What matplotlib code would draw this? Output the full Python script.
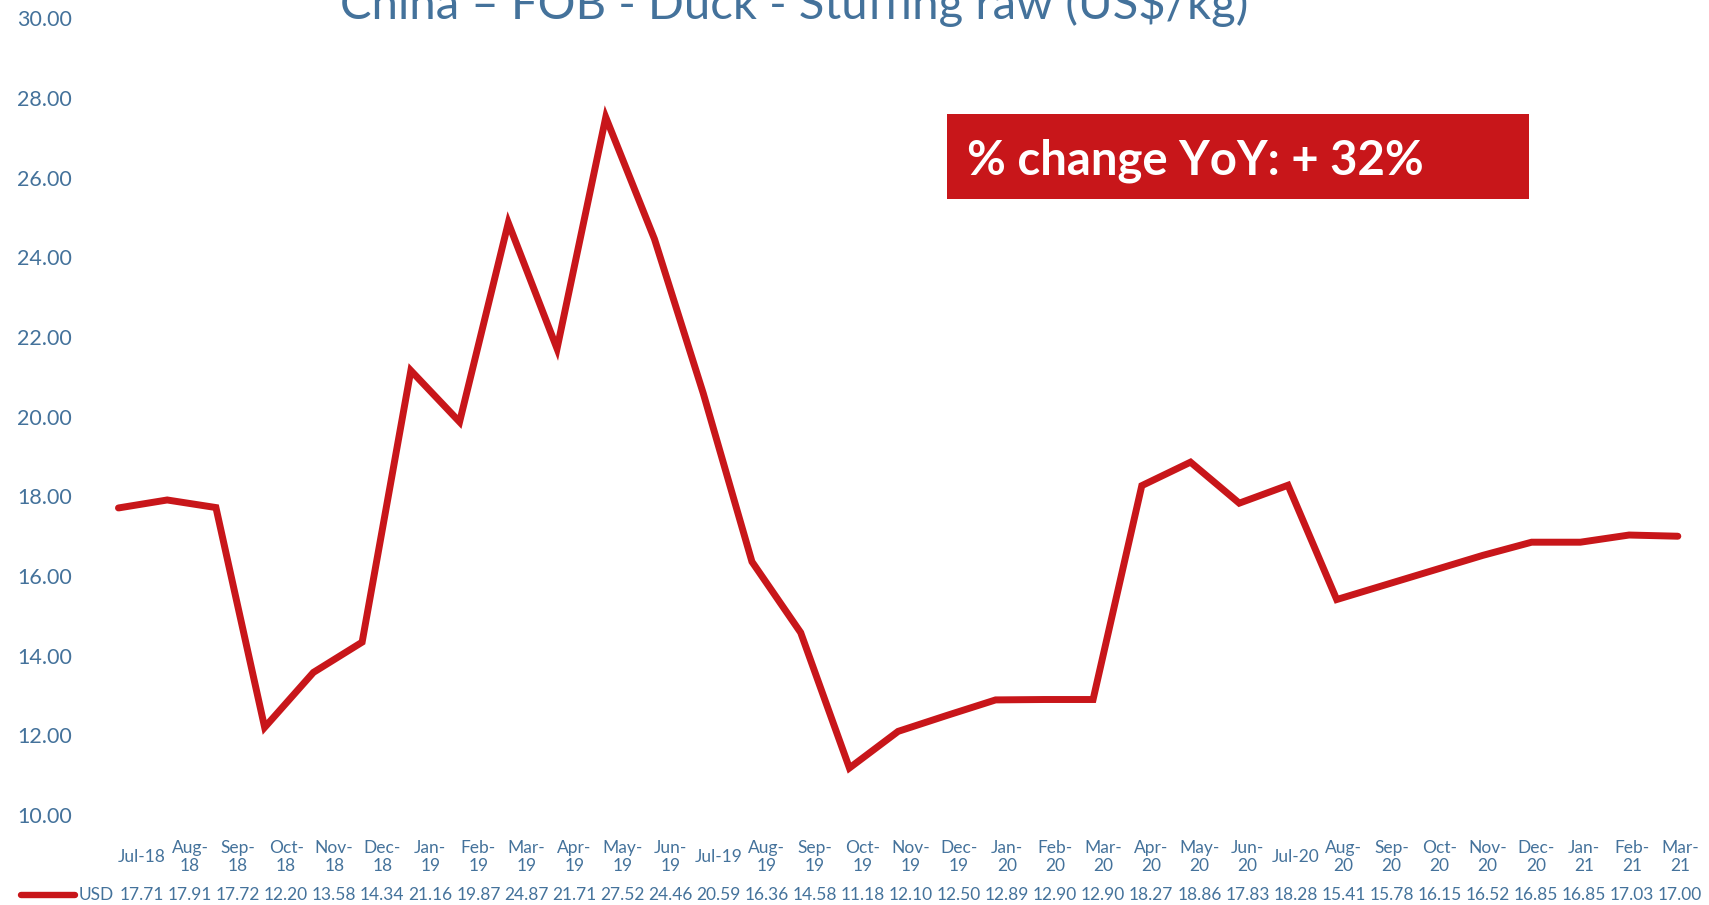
import matplotlib.pyplot as plt
import matplotlib.transforms as mtransforms
from matplotlib.lines import Line2D
from matplotlib.patches import Rectangle

plt.rcParams['font.family'] = ['Lato', 'DejaVu Sans']

months = ['Jul-18', 'Aug-18', 'Sep-18', 'Oct-18', 'Nov-18', 'Dec-18',
          'Jan-19', 'Feb-19', 'Mar-19', 'Apr-19', 'May-19', 'Jun-19',
          'Jul-19', 'Aug-19', 'Sep-19', 'Oct-19', 'Nov-19', 'Dec-19',
          'Jan-20', 'Feb-20', 'Mar-20', 'Apr-20', 'May-20', 'Jun-20',
          'Jul-20', 'Aug-20', 'Sep-20', 'Oct-20', 'Nov-20', 'Dec-20',
          'Jan-21', 'Feb-21', 'Mar-21']
usd = [17.71, 17.91, 17.72, 12.20, 13.58, 14.34, 21.16, 19.87, 24.87, 21.71,
       27.52, 24.46, 20.59, 16.36, 14.58, 11.18, 12.10, 12.50, 12.89, 12.90,
       12.90, 18.27, 18.86, 17.83, 18.28, 15.41, 15.78, 16.15, 16.52, 16.85,
       16.85, 17.03, 17.00]
series_name = 'USD'
title = 'China – FOB - Duck - Stuffing raw (US$/kg)'
badge = '% change YoY: + 32%'
yticks = [10, 12, 14, 16, 18, 20, 22, 24, 26, 28, 30]

red = '#C8161A'
blue = '#44729B'
W, H = 1709, 905

fig = plt.figure(figsize=(W / 100, H / 100), dpi=100)
ax = fig.add_axes([94.1 / W, 90 / H, (1702.2 - 94.1) / W, 796.5 / H])

xs = list(range(len(usd)))
ax.plot(xs, usd, color=red, lw=5, solid_joinstyle='miter', solid_capstyle='round')
ax.set_xlim(-0.5, len(usd) - 0.5)
ax.set_ylim(10, 30)
ax.set_yticks(yticks)
ax.set_yticklabels(['%.2f' % v for v in yticks])
ax.tick_params(axis='y', length=0, pad=16, labelsize=15.5, labelcolor=blue)
ax.set_xticks([])
for s in ax.spines.values():
    s.set_visible(False)

# data table under the chart
tr = mtransforms.blended_transform_factory(ax.transData, fig.transFigure)
for i, (m, v) in enumerate(zip(months, usd)):
    lx = 0.482 + 0.9863 * i
    lab = m if m.startswith('Jul') else m.replace('-', '-\n')
    ax.text(lx, (H - 857) / H, lab, transform=tr, ha='center', va='center',
            fontsize=12.5, color=blue, linespacing=1.15, clip_on=False)
    ax.text(lx, (H - 895) / H, '%.2f' % v, transform=tr, ha='center',
            va='center', fontsize=12.5, color=blue, clip_on=False)

fig.add_artist(Line2D([21 / W, 75 / W], [(H - 895) / H] * 2, color=red,
                      lw=4.6, solid_capstyle='round'))
fig.text(79 / W, (H - 895) / H, series_name, ha='left', va='center',
         fontsize=12.5, color=blue)

# title (partly cut off at the top, as in the source)
fig.text(794 / W, (H - 19) / H, title, ha='center', va='baseline',
         fontsize=34, color=blue)

# red badge
fig.add_artist(Rectangle((947 / W, (H - 199) / H), 582 / W, 85 / H,
                         transform=fig.transFigure, facecolor=red,
                         edgecolor='none'))
fig.text(967 / W, (H - 174) / H, badge, ha='left', va='baseline',
         fontsize=34, fontweight='bold', color='white')

fig.savefig('out.png', dpi=100)
